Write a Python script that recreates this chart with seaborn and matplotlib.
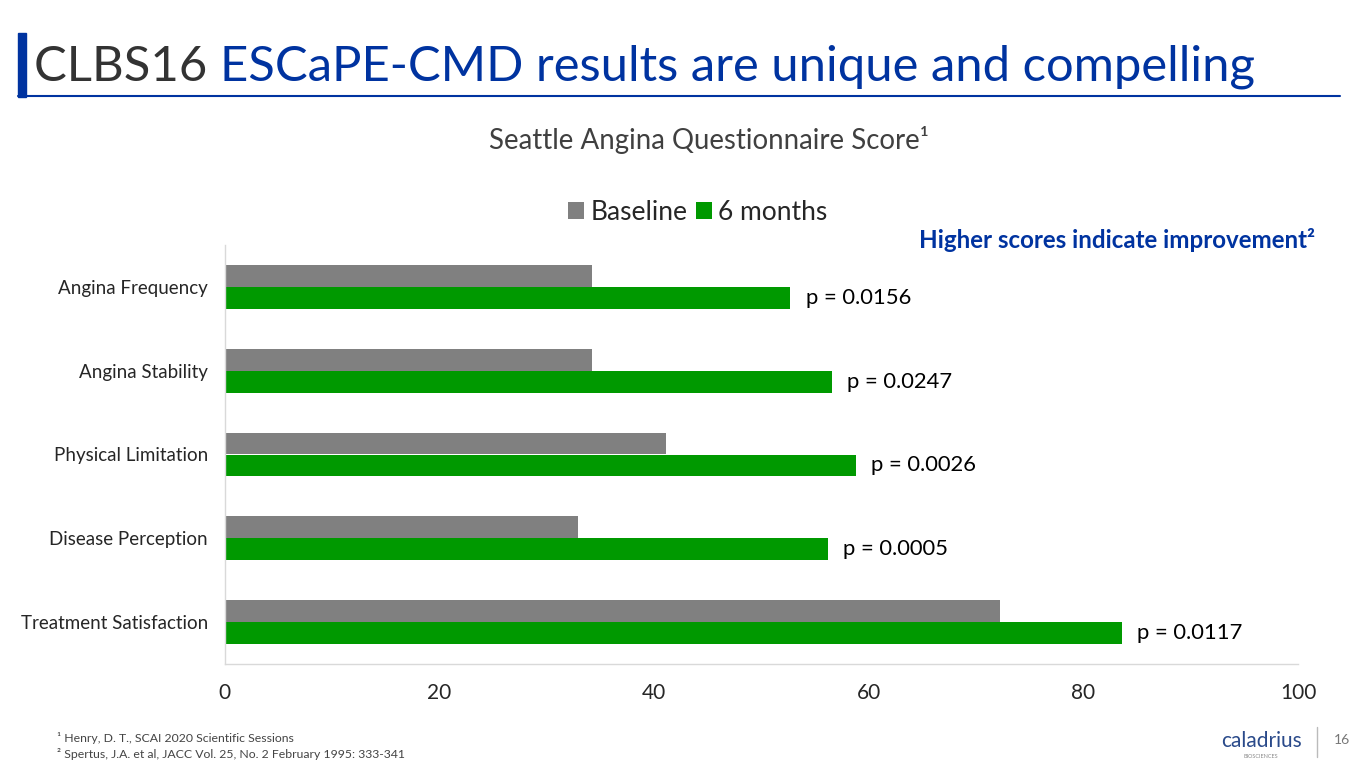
import pandas as pd
import matplotlib
matplotlib.use("Agg")
import matplotlib.pyplot as plt
import seaborn as sns

# Dados
categorias = ['Angina Frequency', 'Angina Stability', 'Physical Limitation',
              'Disease Perception', 'Treatment Satisfaction']
baseline = [34.2, 34.2, 41.1, 32.9, 72.2]
seis_meses = [52.7, 56.6, 58.8, 56.2, 83.6]
p_valores = ['p = 0.0156', 'p = 0.0247', 'p = 0.0026', 'p = 0.0005', 'p = 0.0117']
x_ticks = [0, 20, 40, 60, 80, 100]

df = pd.DataFrame({'categoria': categorias, 'Baseline': baseline, '6 months': seis_meses})
df = df.melt(id_vars='categoria', var_name='periodo', value_name='score')

sns.set_style("white")
plt.rcParams['font.family'] = ['Lato', 'DejaVu Sans']

AZUL = '#0033a0'
CINZA = '#808080'
VERDE = '#009900'
W, H = 1365, 768

fig = plt.figure(figsize=(13.65, 7.68), dpi=100)
ax = fig.add_axes([224.5 / W, 1 - 664 / H, (1298 - 224.5) / W, (664 - 245) / H])

sns.barplot(data=df, y='categoria', x='score', hue='periodo', orient='h',
            palette={'Baseline': CINZA, '6 months': VERDE}, width=0.525,
            saturation=1, linewidth=0, ax=ax, legend=True)

ax.set_xlim(0, 100)
ax.set_ylim(4.5, -0.5)
ax.set_xticks(x_ticks)
ax.set_xticklabels([str(t) for t in x_ticks], fontsize=15)
ax.tick_params(axis='x', length=0, pad=14)
ax.tick_params(axis='y', length=0, pad=12, labelsize=13.5)
ax.set_xlabel('')
ax.set_ylabel('')
for lado in ['top', 'right']:
    ax.spines[lado].set_visible(False)
for lado in ['left', 'bottom']:
    ax.spines[lado].set_color('#d9d9d9')
    ax.spines[lado].set_linewidth(1)

# Rótulos de p-valor nas barras de 6 meses
ax.bar_label(ax.containers[1], labels=p_valores, padding=11, fontsize=15.8, color='black')

# Legenda
handles, labels = ax.get_legend_handles_labels()
ax.legend(handles, labels, loc='center', bbox_to_anchor=(698 / W, 1 - 212 / H),
          bbox_transform=fig.transFigure, ncol=2, frameon=False, fontsize=19,
          handlelength=0.6, handleheight=0.6, handletextpad=0.25, columnspacing=0.3)

renderer = fig.canvas.get_renderer()


def ajustar(texto, largura):
    # muda o tamanho da fonte para o texto ocupar a largura pedida (em pixels)
    bb = texto.get_window_extent(renderer)
    texto.set_fontsize(texto.get_fontsize() * largura / bb.width)


# Título principal
fig.patches.append(plt.Rectangle((18 / W, 1 - 97 / H), 8 / W, 64 / H,
                                 transform=fig.transFigure, color=AZUL))
fig.lines.append(plt.Line2D([18 / W, 1340 / W], [1 - 96 / H, 1 - 96 / H],
                            transform=fig.transFigure, color=AZUL, linewidth=1.5))
titulo = fig.text(34 / W, 1 - 67 / H, 'CLBS16 ESCaPE-CMD results are unique and compelling',
                  fontsize=38, color=AZUL, va='center')
ajustar(titulo, 1222)
tam = titulo.get_fontsize()
t1 = fig.text(34 / W, 1 - 67 / H, 'CLBS16 ', fontsize=tam, color='#333333', va='center')
bb1 = t1.get_window_extent(renderer)
titulo.set_text('ESCaPE-CMD results are unique and compelling')
titulo.set_x(bb1.x1 / W)

# Subtítulo
sub = fig.text(709 / W, 1 - 140 / H, 'Seattle Angina Questionnaire Score¹', fontsize=18,
               color='#404040', ha='center', va='center')
ajustar(sub, 438)
nota = fig.text(1315 / W, 1 - 240 / H, 'Higher scores indicate improvement²', fontsize=16,
                color=AZUL, ha='right', va='center', fontweight='bold')
ajustar(nota, 398)

# Notas de rodapé
fig.text(57 / W, 1 - 738 / H, '¹ Henry, D. T., SCAI 2020 Scientific Sessions',
         fontsize=8.5, color='#444444', va='center')
rod = fig.text(57 / W, 1 - 754 / H,
               '² Spertus, J.A. et al, JACC Vol. 25, No. 2 February 1995: 333-341',
               fontsize=8.5, color='#444444', va='center')
ajustar(rod, 348)
fig.texts[-2].set_fontsize(rod.get_fontsize())

# Logo e número da página
fig.text(1261 / W, 1 - 741 / H, 'caladrius', fontsize=15, color='#2a4a8a',
         ha='center', va='center')
fig.text(1261 / W, 1 - 756 / H, 'BIOSCIENCES', fontsize=4, color='#8a8a8a',
         ha='center', va='center')
fig.lines.append(plt.Line2D([1317 / W, 1317 / W], [1 - 727 / H, 1 - 757 / H],
                            transform=fig.transFigure, color='#bbbbbb', linewidth=1))
fig.text(1342 / W, 1 - 740 / H, '16', fontsize=10, color='#777777',
         ha='center', va='center')

fig.savefig('out.png', dpi=100)
